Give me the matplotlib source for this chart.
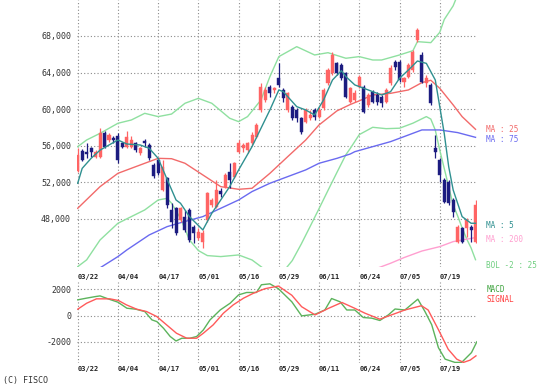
import matplotlib
matplotlib.use("Agg")
import matplotlib.pyplot as plt
from matplotlib.transforms import blended_transform_factory

# ---------------- data ----------------
opens = [53250, 55440, 55330, 55700, 54790, 54790, 57410, 56600, 56800, 57100,
         56250, 55880, 55880, 56250, 55150, 56500, 56060, 53900, 54420, 51140,
         52420, 48950, 49130, 47850, 48220, 48950, 47120, 45850, 45480, 47850,
         49500, 49310, 51000, 51500, 53150, 52600, 55330, 55700, 55520, 56250,
         56980, 59900, 60990, 62450, 62090, 63370, 62090, 59900, 60260, 59900,
         58990, 58620, 58990, 59900, 59090, 60080, 62820, 63910, 65010, 64820,
         63910, 60810, 61000, 62450, 62450, 60440, 61900, 61540, 61360, 60810,
         62820, 65190, 65190, 63000, 63550, 64280, 67560, 65920, 62820, 62640,
         55700, 54420, 52230, 52050, 50040, 45480, 46940, 46940, 47120, 45480]
highs = [55700, 55600, 56320, 55880, 55520, 57960, 57600, 57340, 57100, 57410,
         56430, 57600, 57000, 56430, 55880, 56680, 56250, 54100, 54600, 54400,
         52600, 49680, 49310, 49310, 48950, 49130, 47300, 46940, 46760, 50950,
         50220, 52230, 51320, 52960, 54060, 54240, 56610, 56250, 56430, 57520,
         58440, 62820, 62450, 62640, 62450, 65010, 62270, 61900, 60440, 60080,
         59170, 60080, 59900, 60080, 60260, 62270, 64460, 66290, 65190, 65010,
         64090, 62450, 62090, 63730, 62640, 61720, 62090, 61900, 61540, 62270,
         64820, 65370, 65370, 63550, 65010, 66470, 68840, 66290, 63730, 62820,
         57160, 54600, 52420, 52230, 50220, 47300, 47120, 48030, 47300, 50040]
lows = [53140, 54310, 54600, 54790, 54600, 54600, 55700, 56430, 56300, 54060,
        55700, 55700, 55700, 55330, 54970, 55880, 54420, 52420, 52780, 51000,
        49130, 46940, 46210, 47670, 46570, 45480, 45300, 45660, 44750, 47670,
        49310, 49130, 50400, 51320, 51320, 52420, 55150, 55330, 55150, 56060,
        56800, 59720, 60810, 61360, 61720, 62450, 60810, 59720, 58800, 58620,
        57270, 58440, 58800, 58800, 58990, 59900, 62640, 63730, 63730, 63180,
        61170, 60620, 60810, 62270, 59530, 60260, 60620, 60440, 60260, 60620,
        62640, 64280, 63000, 62450, 63370, 64090, 67380, 62820, 62450, 60440,
        54600, 52050, 49680, 49500, 48220, 45300, 45300, 46030, 45480, 45300]
closes = [54970, 54420, 55080, 55330, 55330, 57340, 55880, 57160, 56600, 54420,
          55880, 56970, 56600, 55520, 55700, 56300, 54600, 52700, 52960, 53700,
          49500, 47670, 46390, 49130, 46760, 45660, 46390, 46580, 46390, 50770,
          50040, 51140, 50700, 52780, 52230, 54060, 56250, 56060, 56250, 57160,
          58260, 62450, 62090, 61720, 62270, 62640, 61170, 61720, 58990, 58990,
          57520, 59900, 59350, 59170, 59900, 62090, 64280, 65920, 63910, 63370,
          61360, 62270, 61720, 63550, 59720, 61540, 60810, 60810, 60620, 62090,
          64460, 64640, 63180, 63370, 64820, 66290, 68660, 63000, 63370, 60620,
          55330, 52780, 49860, 49680, 48770, 47120, 45480, 47850, 46760, 49500]

date_idx = [0, 9, 18, 27, 36, 45, 54, 63, 72, 81]
date_labels = ["03/22", "04/04", "04/17", "05/01", "05/16",
               "05/29", "06/11", "06/24", "07/05", "07/19"]

price_ticks = [48000, 52000, 56000, 60000, 64000, 68000]
price_tick_labels = ["48,000", "52,000", "56,000", "60,000", "64,000", "68,000"]
macd_ticks = [-2000, 0, 2000]
macd_tick_labels = ["-2000", "0", "2000"]

ma5_x = [0, 1, 3, 5, 7, 9, 11, 14, 16, 18, 20, 22, 23, 25, 28, 30, 34, 36, 39,
         43, 45, 46, 49, 51, 53, 55, 57, 59, 60, 62, 65, 66, 68, 70, 72, 74, 76,
         78, 80, 81, 82, 83, 84, 86, 88, 89]
ma5_y = [51870, 53500, 54600, 55500, 56060, 56610, 56170, 56060, 55700, 54600,
         52300, 50040, 49680, 48220, 46760, 48580, 51500, 53330, 55880, 59900,
         62090, 61900, 60260, 59900, 59350, 60990, 63180, 64200, 63550, 62640,
         62090, 61900, 61540, 61900, 63370, 64280, 65260, 65000, 63180, 60260,
         57340, 53690, 51140, 48220, 47490, 47490]

ma25_x = [0, 5, 9, 12, 16, 18, 21, 24, 28, 32, 36, 39, 43, 47, 51, 54, 58, 61,
          63, 66, 70, 74, 77, 79, 81, 84, 86, 89]
ma25_y = [49130, 51500, 52960, 53510, 54240, 54600, 54560, 54060, 52780, 51500,
          51210, 51320, 52960, 54790, 56600, 58260, 59800, 60500, 60900, 61540,
          61720, 62090, 62890, 63150, 62270, 60450, 59170, 57780]

ma75_x = [4, 9, 11, 16, 20, 23, 28, 32, 36, 39, 43, 47, 51, 54, 58, 61, 62, 66,
          70, 74, 77, 81, 85, 89]
ma75_y = [42300, 43840, 44570, 46210, 47120, 47550, 48220, 49130, 50040, 50960,
          51870, 52600, 53330, 54060, 54600, 55080, 55330, 55880, 56430, 57160,
          57710, 57710, 57420, 56900]

ma200_x = [64, 65, 70, 73, 77, 81, 84, 89]
ma200_y = [41800, 42200, 43110, 43730, 44450, 44930, 45480, 45920]

bol_up_x = [0, 2, 5, 9, 12, 15, 18, 21, 24, 27, 30, 34, 36, 38, 41, 43, 45, 49,
            53, 56, 60, 63, 66, 68, 72, 75, 76, 79, 81, 82, 84, 85]
bol_up_y = [55880, 56610, 57340, 58440, 58800, 59530, 59170, 59450, 60630, 61170,
            60630, 58990, 58620, 59170, 60990, 63550, 65740, 66830, 65920, 66170,
            65560, 65740, 65370, 65370, 65920, 66390, 67380, 67270, 68400, 69800,
            71300, 72500]

bol_lo_x = [0, 2, 5, 9, 12, 15, 18, 20, 21, 23, 25, 27, 29, 32, 36, 39, 42, 44,
            46, 48, 50, 52, 54, 56, 58, 60, 61, 63, 66, 69, 72, 75, 78, 79, 80,
            81, 82, 83, 84, 85, 86, 87, 88, 89]
bol_lo_y = [42740, 43480, 45660, 47490, 48220, 48950, 50040, 50220, 49680, 48030,
            45660, 44500, 43950, 43840, 44020, 43470, 42380, 41500, 42200, 43400,
            45200, 47140, 49100, 51090, 53060, 55000, 55700, 57200, 58000, 57850,
            57900, 58450, 59170, 58900, 57700, 55500, 53500, 51500, 49500, 48300,
            47000, 45800, 44800, 43500]

macd_x = [0, 2, 4, 5, 7, 9, 11, 13, 15, 16.6, 17.7, 19.2, 20.7, 22, 23.3, 25.1,
          26.6, 28.1, 29.6, 31.9, 34.1, 36, 37.8, 40, 41.1, 43, 44.9, 47.9, 50.1,
          53.1, 55.3, 56.8, 58.7, 60.2, 62, 63.9, 65.8, 67.6, 69.5, 71, 73.2,
          76.1, 77.7, 79.2, 80.7, 82.2, 84.4, 85.9, 87, 88.1, 89.3]
macd_y = [1200, 1330, 1450, 1500, 1250, 1020, 560, 485, 306, -330, -460, -970,
          -1600, -1940, -1730, -1730, -1600, -1100, -330, 430, 940, 1580, 1760,
          1760, 2350, 2420, 2050, 1050, -25, 100, 425, 1300, 1050, 425, 425,
          -150, -200, -375, 50, 500, 425, 1250, 300, -700, -2450, -3325, -3575,
          -3575, -3200, -2825, -2000]

signal_x = [0, 2, 4.2, 7.2, 9.1, 10.9, 13.2, 15.4, 17.7, 19.9, 22.1, 24.4, 26.6,
            28.1, 30.3, 32.6, 34.8, 37.1, 39.3, 41.9, 44.9, 47.9, 50.1, 53.1,
            56.1, 59.1, 62, 64.3, 67.6, 70.2, 73.2, 76.9, 78.4, 80.7, 82.9, 84.8,
            86.3, 87.8, 89.1]
signal_y = [485, 940, 1275, 1275, 1150, 815, 485, 306, -77, -714, -1350, -1730,
            -1730, -1350, -714, 180, 815, 1326, 1700, 2050, 2250, 1550, 675, 50,
            550, 1000, 550, 175, -275, 50, 425, 750, 425, -1075, -2575, -3325,
            -3575, -3400, -3075]

# ---------------- styles ----------------
W, H = 547, 389
FONT = "DejaVu Sans Mono"
C_UP = "#ff6464"
C_DN = "#1c1c80"
C_MA5 = "#2f9090"
C_MA25 = "#f26a6a"
C_MA75 = "#6a6af0"
C_MA200 = "#ff9fd0"
C_BOL = "#8fe0a0"
C_MACD = "#5cb35c"
C_SIG = "#ff5a5a"
C_GRID = "#8a8a8a"

fig = plt.figure(figsize=(W / 100, H / 100), dpi=100)
fig.patch.set_facecolor("white")

def px_axes(x0, y0, x1, y1):
    return fig.add_axes([x0 / W, 1 - y1 / H, (x1 - x0) / W, (y1 - y0) / H])

ax = px_axes(77.3, 0, 477.3, 267)
axm = px_axes(77.3, 282, 477.3, 363)

xlim = (-0.09, 89.4)
for a in (ax, axm):
    a.set_xlim(*xlim)
    for s in a.spines.values():
        s.set_visible(False)
    a.tick_params(length=0, pad=4.5)
    a.set_xticks([])
    for x in date_idx:
        a.axvline(x, color=C_GRID, lw=0.8, ls=(0, (1, 2)), zorder=0)

ax.set_ylim(42700, 71940)
ax.set_yticks(price_ticks)
ax.set_yticklabels(price_tick_labels, fontfamily=FONT, fontsize=6, color="#333333")
for y in price_ticks:
    ax.axhline(y, color=C_GRID, lw=0.8, ls=(0, (1, 2)), zorder=0)

axm.set_ylim(-3620, 2560)
axm.set_yticks(macd_ticks)
axm.set_yticklabels(macd_tick_labels, fontfamily=FONT, fontsize=6, color="#333333")
for y in macd_ticks:
    axm.axhline(y, color=C_GRID, lw=0.8, ls=(0, (1, 2)), zorder=0)

# indicator lines
lw = 1.0
ax.plot(bol_up_x, bol_up_y, color=C_BOL, lw=lw, zorder=2)
ax.plot(bol_lo_x, bol_lo_y, color=C_BOL, lw=lw, zorder=2)
ax.plot(ma75_x, ma75_y, color=C_MA75, lw=lw, zorder=2)
ax.plot(ma200_x, ma200_y, color=C_MA200, lw=lw, zorder=2)
ax.plot(ma25_x, ma25_y, color=C_MA25, lw=lw, zorder=2)

# candles
idx = list(range(len(closes)))
for i in idx:
    o, h, l, c = opens[i], highs[i], lows[i], closes[i]
    col = C_UP if c >= o else C_DN
    ax.vlines(i, l, h, color=col, lw=0.9, zorder=3)
    ax.bar(i, abs(c - o) if abs(c - o) > 60 else 60, bottom=min(o, c), width=0.68,
           color=col, edgecolor=col, lw=0.3, zorder=3)

ax.plot(ma5_x, ma5_y, color=C_MA5, lw=lw, zorder=4)

axm.plot(macd_x, macd_y, color=C_MACD, lw=lw, zorder=2)
axm.plot(signal_x, signal_y, color=C_SIG, lw=lw, zorder=3)

# date labels (between panels and under the MACD panel)
for a, ypx in ((ax, 277), (axm, 368.8)):
    tr = blended_transform_factory(a.transData, fig.transFigure)
    for x, lab in zip(date_idx, date_labels):
        a.text(x, 1 - ypx / H, lab, transform=tr, ha="left", va="center",
               fontfamily=FONT, fontsize=5, fontweight="bold", color="#222222",
               clip_on=False)

# legend texts
legend_items = [
    ("MA : 25", C_MA25, 130),
    ("MA : 75", C_MA75, 139.3),
    ("MA : 5", C_MA5, 225.3),
    ("MA : 200", C_MA200, 239),
    ("BOL -2 : 25", "#6fcf80", 265),
    ("MACD", "#3fa33f", 289.3),
    ("SIGNAL", "#ff4040", 300),
]
for txt, col, ypx in legend_items:
    fig.text(486.5 / W, 1 - ypx / H, txt, ha="left", va="center",
             fontfamily=FONT, fontsize=5.5, color=col)

fig.text(3 / W, 1 - 380 / H, "(C) FISCO", ha="left", va="center",
         fontfamily=FONT, fontsize=6, color="#333333")

fig.savefig("out.png", dpi=100, facecolor="white")
